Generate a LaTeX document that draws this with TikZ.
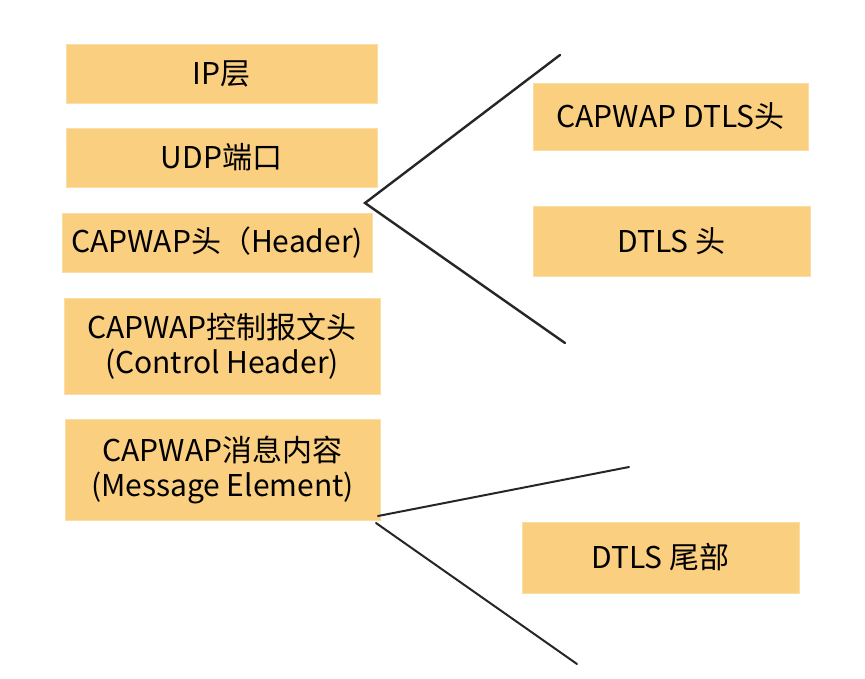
\documentclass[tikz,border=0pt]{standalone}
\usepackage{fontspec}
\setmainfont{Noto Sans CJK SC}
\usepackage{tikz}

\definecolor{boxfill}{RGB}{251,207,128}

\begin{document}
\begin{tikzpicture}[
    x=1pt,y=-1pt,
    layer/.style={fill=boxfill,draw=boxfill!70!white,line width=0.8pt,
        align=center,inner sep=0pt,font=\fontsize{30}{35}\selectfont},
    branch/.style={line width=2.4pt,line cap=round,black!85}
]
\useasboundingbox (0,0) rectangle (865,679);
% left column
\node[layer,minimum width=311,minimum height=59] (ip) at (221.5,73.5) {IP层};
\node[layer,minimum width=311,minimum height=59] (udp) at (221.5,157.5) {UDP端口};
\node[layer,minimum width=310,minimum height=59] (hdr) at (217,242.5) {CAPWAP头（Header)};
\node[layer,minimum width=316,minimum height=96] (ctrl) at (222,346) {CAPWAP控制报文头\\(Control Header)};
\node[layer,minimum width=315,minimum height=101] (msg) at (222.5,469.5) {CAPWAP消息内容\\(Message Element)};
% right column
\node[layer,minimum width=275,minimum height=67] (cdtls) at (670.5,116.5) {CAPWAP DTLS头};
\node[layer,minimum width=277,minimum height=70] (dtlshead) at (671.5,241) {DTLS 头};
\node[layer,minimum width=277,minimum height=71] (dtlstail) at (660.5,557.5) {DTLS 尾部};
% brackets
\coordinate (forktop) at (365,203);
\coordinate (topup) at (560,55);
\coordinate (topdown) at (565,343);
\coordinate (forkbotA) at (378,516);
\coordinate (forkbotB) at (376,523);
\coordinate (botup) at (629,467);
\coordinate (botdown) at (577,664);
\draw[branch] (topup) -- (forktop) -- (topdown);
\draw[branch,line width=2pt] (forkbotA) -- (botup);
\draw[branch,line width=2pt] (forkbotB) -- (botdown);
\end{tikzpicture}
\end{document}
